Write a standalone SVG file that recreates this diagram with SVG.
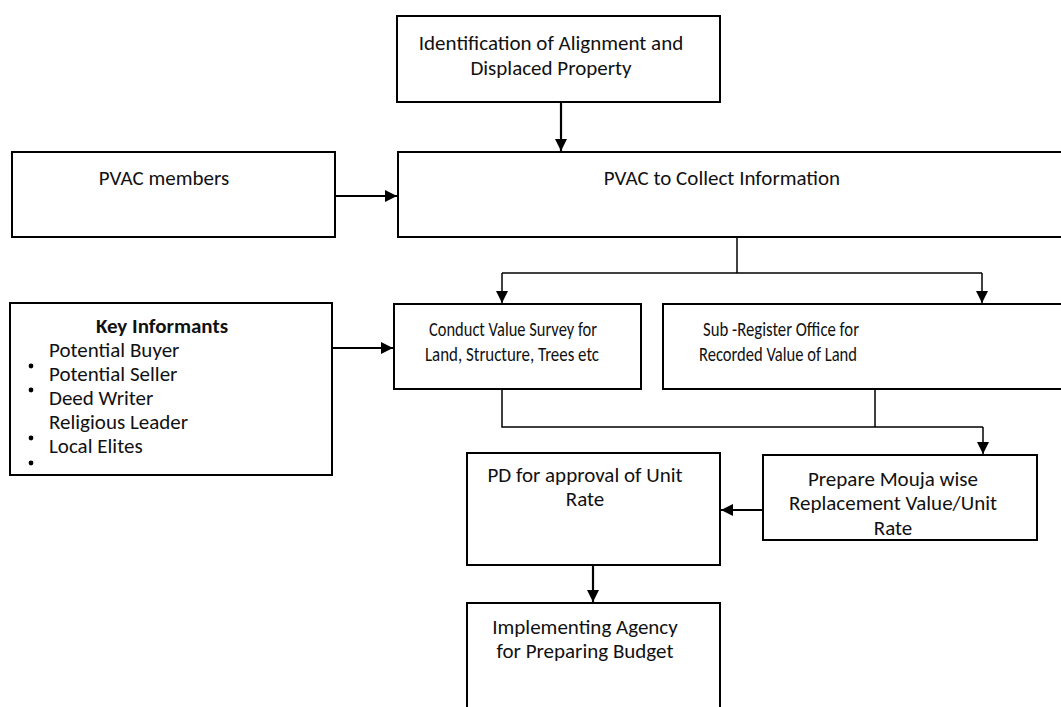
<svg xmlns="http://www.w3.org/2000/svg" width="1061" height="707" viewBox="0 0 1061 707">
<defs>
<style>
.box{fill:#fff;stroke:#000;stroke-width:2}
.t{font-family:Carlito,Lato,"Liberation Sans",Arial,sans-serif;font-size:21px;fill:#111;text-anchor:middle}
.l{text-anchor:start}
.b{font-weight:bold}
.c{fill:none;stroke:#000;stroke-width:2.2}
.c2{fill:none;stroke:#000;stroke-width:1.5}
</style>
<marker id="ah" viewBox="0 0 10 10" refX="10" refY="5" markerWidth="13" markerHeight="12" markerUnits="userSpaceOnUse" orient="auto">
<path d="M0,0 L10,5 L0,10 z" fill="#000"/>
</marker>
</defs>
<rect width="1061" height="707" fill="#fff"/>

<g id="connectors">
<line class="c" x1="561" y1="102" x2="561" y2="151" marker-end="url(#ah)"/>
<line class="c" x1="335" y1="196" x2="397" y2="196" marker-end="url(#ah)"/>
<polyline class="c2" points="737,237 737,273"/>
<polyline class="c2" points="502,273 982,273"/>
<line class="c2" x1="502" y1="273" x2="502" y2="303" marker-end="url(#ah)"/>
<line class="c2" x1="982" y1="273" x2="982" y2="303" marker-end="url(#ah)"/>
<line class="c" x1="332" y1="348" x2="393" y2="348" marker-end="url(#ah)"/>
<polyline class="c2" points="502,389 502,427 983,427"/>
<polyline class="c2" points="875,389 875,427"/>
<line class="c2" x1="983" y1="427" x2="983" y2="454" marker-end="url(#ah)"/>
<line class="c" x1="763" y1="510" x2="721" y2="510" marker-end="url(#ah)"/>
<line class="c" x1="593" y1="565" x2="593" y2="602" marker-end="url(#ah)"/>
</g>

<g id="identification">
<rect class="box" x="397" y="16" width="323" height="86"/>
<text class="t" x="551" y="50">Identification of Alignment and</text>
<text class="t" x="551" y="75">Displaced Property</text>
</g>

<g id="pvac-collect">
<rect class="box" x="398" y="152" width="680" height="85"/>
<text class="t" x="722" y="185">PVAC to Collect Information</text>
</g>

<g id="pvac-members">
<rect class="box" x="12" y="152" width="323" height="85"/>
<text class="t" x="164" y="185">PVAC members</text>
</g>

<g id="key-informants">
<rect class="box" x="10" y="303" width="322" height="172"/>
<text class="t b" x="162" y="333">Key Informants</text>
<text class="t l" x="49" y="357">Potential Buyer</text>
<text class="t l" x="49" y="381">Potential Seller</text>
<text class="t l" x="49" y="405">Deed Writer</text>
<text class="t l" x="49" y="429">Religious Leader</text>
<text class="t l" x="49" y="453">Local Elites</text>
<circle cx="31" cy="366" r="2.4" fill="#000"/>
<circle cx="31" cy="390" r="2.4" fill="#000"/>
<circle cx="31" cy="438" r="2.4" fill="#000"/>
<circle cx="31" cy="463" r="2.4" fill="#000"/>
</g>

<g id="conduct-survey">
<rect class="box" x="394" y="304" width="247" height="85"/>
<text class="t" x="513" y="336" textLength="168" lengthAdjust="spacingAndGlyphs">Conduct Value Survey for</text>
<text class="t" x="512" y="361" textLength="174" lengthAdjust="spacingAndGlyphs">Land, Structure, Trees etc</text>
</g>

<g id="sub-register">
<rect class="box" x="663" y="304" width="410" height="85"/>
<text class="t" x="781" y="336" textLength="156" lengthAdjust="spacingAndGlyphs">Sub -Register Office for</text>
<text class="t" x="778" y="361" textLength="158" lengthAdjust="spacingAndGlyphs">Recorded Value of Land</text>
</g>

<g id="prepare-mouja">
<rect class="box" x="763" y="455" width="274" height="85"/>
<text class="t" x="893" y="486">Prepare Mouja wise</text>
<text class="t" x="893" y="510">Replacement Value/Unit</text>
<text class="t" x="893" y="535">Rate</text>
</g>

<g id="pd-approval">
<rect class="box" x="467" y="453" width="253" height="112"/>
<text class="t" x="585" y="482">PD for approval of Unit</text>
<text class="t" x="585" y="506">Rate</text>
</g>

<g id="implementing-agency">
<rect class="box" x="467" y="603" width="253" height="130"/>
<text class="t" x="585" y="634">Implementing Agency</text>
<text class="t" x="585" y="658">for Preparing Budget</text>
</g>
</svg>
